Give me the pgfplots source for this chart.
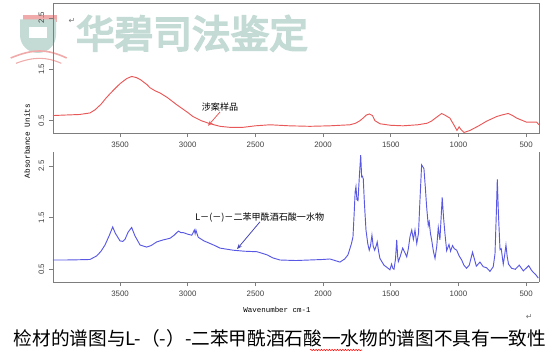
\documentclass[border=0pt]{standalone}
\usepackage{pgfplots}
\pgfplotsset{compat=1.18}
\usepackage{fontspec}
\setmainfont{Liberation Sans}
\newfontfamily\cjk{Noto Sans CJK SC}
\newfontfamily\cjkb[FakeBold=4.5]{Noto Sans CJK SC}
\newfontfamily\mono{Liberation Mono}
\newfontfamily\dv{DejaVu Sans}
\usetikzlibrary{arrows.meta,decorations.pathmorphing}
\definecolor{redline}{RGB}{232,88,88}
\definecolor{blueline}{RGB}{88,88,228}
\definecolor{axgray}{RGB}{125,125,125}
\definecolor{wm}{RGB}{195,219,212}
\definecolor{wmpink}{RGB}{240,170,170}

\pgfplotstableread{
w v
3995 0.60
3900 0.61
3800 0.62
3722 0.65
3685 0.71
3640 0.82
3600 0.95
3550 1.09
3500 1.22
3450 1.32
3414 1.36
3380 1.34
3350 1.30
3300 1.20
3278 1.14
3240 1.08
3205 1.04
3150 0.95
3081 0.81
3000 0.66
2961 0.58
2900 0.50
2835 0.44
2761 0.39
2688 0.37
2592 0.37
2500 0.40
2392 0.42
2250 0.40
2097 0.39
1950 0.40
1801 0.42
1760 0.45
1727 0.50
1700 0.56
1680 0.61
1659 0.63
1635 0.60
1617 0.50
1580 0.44
1500 0.41
1410 0.40
1300 0.42
1232 0.45
1200 0.49
1170 0.55
1124 0.64
1095 0.60
1063 0.55
1030 0.40
1011 0.31
995 0.38
985 0.34
959 0.27
915 0.31
850 0.40
792 0.49
718 0.58
680 0.61
632 0.64
600 0.60
570 0.55
496 0.47
422 0.47
405 0.42
}\topdata

\pgfplotstableread{
w v
3995 0.68
3900 0.68
3800 0.685
3722 0.69
3672 0.76
3640 0.85
3611 0.97
3580 1.15
3554 1.32
3535 1.20
3500 1.05
3480 1.04
3463 1.08
3440 1.22
3414 1.31
3390 1.15
3352 0.97
3303 0.93
3270 0.96
3229 1.03
3180 1.07
3131 1.10
3100 1.16
3069 1.24
3050 1.21
3032 1.21
3000 1.18
2970 1.16
2958 1.22
2951 1.26
2945 1.19
2939 1.26
2930 1.18
2922 1.12
2880 1.05
2835 1.00
2800 0.96
2761 0.91
2665 0.87
2580 0.85
2488 0.84
2450 0.81
2414 0.78
2370 0.72
2318 0.68
2200 0.67
2100 0.68
2001 0.69
1950 0.70
1875 0.64
1840 0.70
1816 0.78
1790 1.00
1779 1.13
1770 1.60
1763 2.00
1757 2.10
1750 1.85
1742 1.83
1732 2.30
1722 2.71
1715 2.29
1709 2.30
1703 2.25
1695 1.80
1683 1.26
1670 1.00
1659 0.87
1650 0.95
1639 1.16
1630 0.95
1619 0.87
1608 0.95
1600 1.03
1590 0.85
1580 0.71
1550 0.58
1520 0.52
1506 0.49
1494 0.60
1485 0.52
1476 0.50
1465 0.70
1456 1.07
1449 0.75
1444 0.65
1430 0.75
1412 0.91
1395 0.82
1382 0.74
1370 0.90
1358 1.13
1345 1.26
1333 1.08
1321 1.26
1308 1.00
1295 1.20
1285 1.80
1272 2.52
1255 2.45
1245 2.10
1235 1.71
1223 1.35
1216 1.42
1207 1.20
1198 1.07
1185 0.85
1173 0.71
1160 0.95
1149 1.31
1137 1.07
1128 1.50
1120 1.89
1110 1.50
1100 1.20
1087 0.86
1070 0.98
1058 0.85
1044 0.96
1031 0.90
1013 0.87
995 0.76
976 0.68
960 0.58
940 0.52
920 0.58
896 0.83
880 0.68
868 0.56
841 0.64
817 0.55
792 0.53
767 0.46
743 0.55
730 0.80
720 1.60
713 2.24
705 1.60
693 0.88
684 0.90
669 0.60
660 0.75
649 0.97
640 0.75
630 0.60
607 0.52
580 0.50
551 0.58
521 0.47
500 0.52
481 0.57
460 0.48
447 0.44
430 0.40
410 0.33
}\botdata

\pgfplotsset{myax/.style={
  scale only axis, width=364.5pt, height=97.5pt,
  x dir=reverse, xmin=405, xmax=3995,
  xtick={500,1000,...,3500}, ytick={0.5,1.5,2.5},
  tick align=outside, xtick pos=bottom, ytick pos=left,
  major tick length=3pt,
  axis line style={axgray, line width=0.6pt},
  tick style={axgray, line width=0.6pt},
  every tick label/.append style={font=\fontsize{5.9}{6}\selectfont, text=black!75},
  /pgf/number format/1000 sep={},
  /pgf/number format/assume math mode=true,
  yticklabel style={rotate=90, anchor=south},
  clip=false,
}}

\begin{document}
\begin{tikzpicture}
\useasboundingbox (0,0) rectangle (420pt,268.5pt);
% watermark logo
\fill[wmpink] (17pt,257pt) rectangle (43pt,252pt);
\fill[wm] (15pt,254pt) -- (42pt,254pt) -- (42pt,242.25pt) arc[start angle=0,end angle=-180,radius=13.5pt] -- cycle;
\fill[white] (22pt,248pt) rectangle (35pt,240pt);
\draw[wmpink, line width=1.2pt] (8pt,225pt) .. controls (25pt,232pt) and (35pt,232pt) .. (50pt,225pt);
\draw[wmpink, line width=0.8pt] (12pt,221pt) .. controls (25pt,226pt) and (35pt,226pt) .. (46pt,221pt);
\node[text=wm, font=\cjkb\fontsize{29}{30}\selectfont, inner sep=0pt] at (144pt,243.5pt) {华碧司法鉴定};
\node[text=black!55, font=\dv\fontsize{6}{6}\selectfont, inner sep=0pt] at (54pt,252.5pt) {↵};

\begin{axis}[myax, at={(39.75pt,168.75pt)}, anchor=south west, ymin=0.26, ymax=2.79]
\addplot[redline, line width=0.7pt] table[x=w,y=v] {\topdata};
\node[font=\cjk\fontsize{6.8}{7}\selectfont, inner sep=0pt] at (axis cs:2761,0.77) {涉案样品};
\draw[redline, line width=0.6pt, -{Stealth[length=4pt,width=3pt]}] (axis cs:2761,0.67) -- (axis cs:2850,0.40);
\end{axis}

\begin{axis}[myax, at={(39.75pt,57pt)}, anchor=south west, ymin=0.254, ymax=2.771, axis x line*=bottom]
\addplot[blueline, line width=0.7pt] table[x=w,y=v] {\botdata};
\node[anchor=west, font=\cjk\fontsize{6.8}{7}\selectfont, inner sep=0pt] at (axis cs:2946,1.51) {L－(－)－二苯甲酰酒石酸一水物};
\draw[blueline!80!black, line width=0.6pt, -{Stealth[length=4pt,width=3pt]}] (axis cs:2466,1.42) -- (axis cs:2636,0.89);
\end{axis}

\node[rotate=90, font=\mono\fontsize{5.8}{6}\selectfont, inner sep=0pt] at (20.25pt,162.75pt) {Absorbance Units};
\node[font=\mono\fontsize{5.6}{6}\selectfont, inner sep=0pt] at (207.75pt,36pt) {Wavenumber cm-1};
\node[text=black!55, font=\dv\fontsize{6}{6}\selectfont, inner sep=0pt] at (397pt,31pt) {↵};
\node[font=\cjk\fontsize{14}{15}\selectfont, inner sep=0pt] at (210pt,15pt) {检材的谱图与L-（-）-二苯甲酰酒石酸一水物的谱图不具有一致性};
\draw[red, line width=0.4pt, decorate, decoration={snake, amplitude=0.5pt, segment length=2pt}] (232.5pt,6pt) -- (271.5pt,6pt);
\end{tikzpicture}
\end{document}
